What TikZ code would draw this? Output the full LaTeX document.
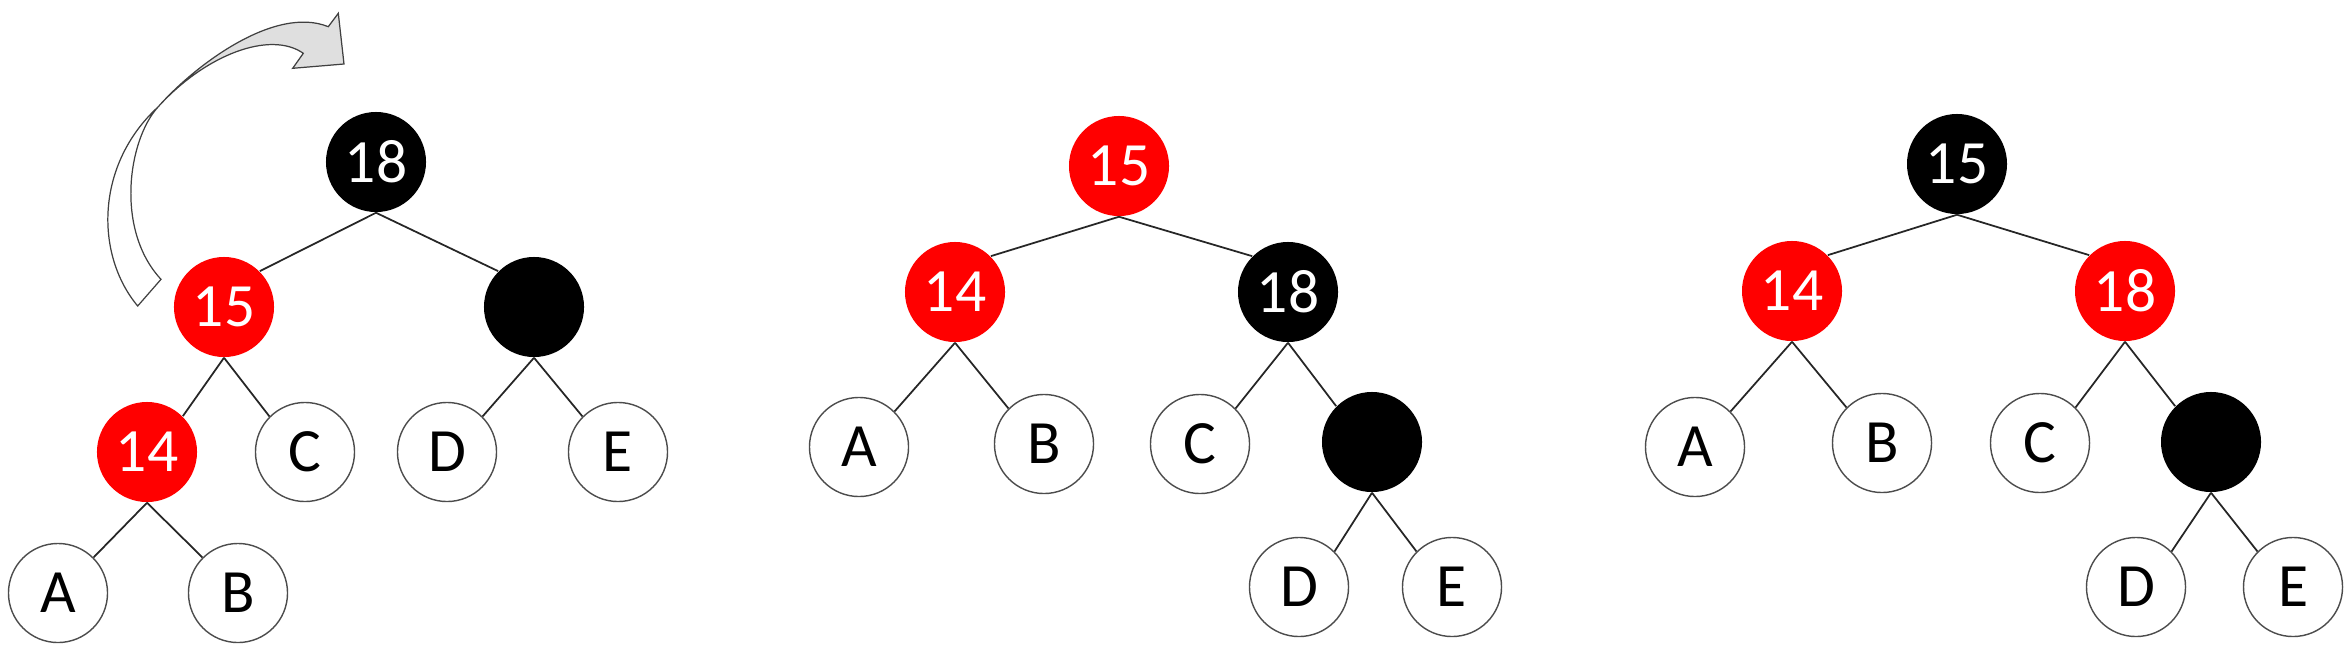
\documentclass[tikz,border=0pt]{standalone}
\usepackage{fontspec}
\setmainfont{Carlito}

\begin{document}
\begin{tikzpicture}[
  x=0.01cm, y=-0.01cm,
  rbnode/.style={circle, fill=red, text=white, minimum size=1cm, inner sep=0pt, font=\fontsize{17.5}{21}\selectfont},
  bknode/.style={circle, fill=black, text=white, minimum size=1cm, inner sep=0pt, font=\fontsize{17.5}{21}\selectfont},
  lfnode/.style={circle, draw=black!70, line width=0.4pt, fill=white, minimum size=0.99cm, inner sep=0pt, font=\fontsize{17.5}{21}\selectfont},
  edge/.style={draw=black!85, line width=0.5pt},
  rot/.style={draw=black!75, line width=0.35pt, line join=miter}
]
\useasboundingbox (0,0) rectangle (2352,648);

% rotation arrow
\filldraw[rot, fill=white] (137.7,306) .. controls (95,255) and (95,165) .. (158,107)
  .. controls (128,140) and (115,230) .. (161,279.3) -- cycle;
\filldraw[rot, fill=gray!25] (158,107) .. controls (195,65) and (275,5) .. (328.3,26.7)
  -- (338.3,13.3) -- (344,64) -- (292.7,68.3) -- (303.3,53.3)
  .. controls (270,30) and (205,55) .. (158,107) -- cycle;

% before
\node[bknode] (a18) at (376,162) {18};
\node[rbnode] (a15) at (224,307) {15};
\node[bknode] (aN) at (534,307) {};
\node[rbnode] (a14) at (147,452) {14};
\node[lfnode] (aC) at (305,452) {C};
\node[lfnode] (aD) at (447,452) {D};
\node[lfnode] (aE) at (618,452) {E};
\node[lfnode] (aA) at (58,593) {A};
\node[lfnode] (aB) at (238,593) {B};
\draw[edge] (a18.south) -- (a15.north east);
\draw[edge] (a18.south) -- (aN.north west);
\draw[edge] (a15.south) -- (a14.north east);
\draw[edge] (a15.south) -- (aC.north west);
\draw[edge] (aN.south) -- (aD.north east);
\draw[edge] (aN.south) -- (aE.north west);
\draw[edge] (a14.south) -- (aA.north east);
\draw[edge] (a14.south) -- (aB.north west);

% after rotation
\node[rbnode] (b15) at (1119,166) {15};
\node[rbnode] (b14) at (955,292) {14};
\node[bknode] (b18) at (1288,292) {18};
\node[lfnode] (bA) at (859,447) {A};
\node[lfnode] (bB) at (1044,444) {B};
\node[lfnode] (bC) at (1200,444) {C};
\node[bknode] (bN) at (1372,442) {};
\node[lfnode] (bD) at (1299,587) {D};
\node[lfnode] (bE) at (1452,587) {E};
\draw[edge] (b15.south) -- (b14.north east);
\draw[edge] (b15.south) -- (b18.north west);
\draw[edge] (b14.south) -- (bA.north east);
\draw[edge] (b14.south) -- (bB.north west);
\draw[edge] (b18.south) -- (bC.north east);
\draw[edge] (b18.south) -- (bN.north west);
\draw[edge] (bN.south) -- (bD.north east);
\draw[edge] (bN.south) -- (bE.north west);

% after recolouring
\node[bknode] (c15) at (1957,164) {15};
\node[rbnode] (c14) at (1792,291) {14};
\node[rbnode] (c18) at (2125,291) {18};
\node[lfnode] (cA) at (1695,447) {A};
\node[lfnode] (cB) at (1882,443) {B};
\node[lfnode] (cC) at (2040,443) {C};
\node[bknode] (cN) at (2211,442) {};
\node[lfnode] (cD) at (2136,587) {D};
\node[lfnode] (cE) at (2293,587) {E};
\draw[edge] (c15.south) -- (c14.north east);
\draw[edge] (c15.south) -- (c18.north west);
\draw[edge] (c14.south) -- (cA.north east);
\draw[edge] (c14.south) -- (cB.north west);
\draw[edge] (c18.south) -- (cC.north east);
\draw[edge] (c18.south) -- (cN.north west);
\draw[edge] (cN.south) -- (cD.north east);
\draw[edge] (cN.south) -- (cE.north west);
\end{tikzpicture}
\end{document}
